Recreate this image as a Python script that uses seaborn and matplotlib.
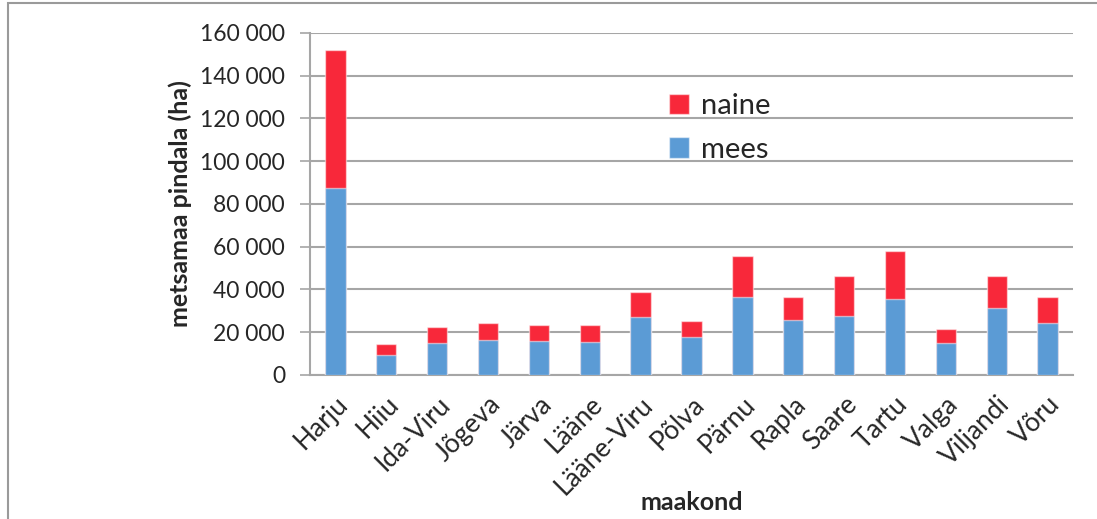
import matplotlib
matplotlib.use("Agg")
import matplotlib.pyplot as plt
from matplotlib.patches import Rectangle
import pandas as pd
import seaborn as sns

# metsamaa pindala (ha) maakonniti, omaniku sugu
maakond = ["Harju", "Hiiu", "Ida-Viru", "Jõgeva", "Järva", "Lääne", "Lääne-Viru",
           "Põlva", "Pärnu", "Rapla", "Saare", "Tartu", "Valga", "Viljandi", "Võru"]
mees = [87500, 9400, 15100, 16400, 16000, 15500, 27100,
        17800, 36400, 25600, 27600, 35600, 14800, 31400, 24300]
naine = [64500, 5100, 7400, 7900, 7400, 7900, 11800,
         7600, 19100, 10800, 18500, 22600, 6600, 14800, 12100]

RED = "#F8283A"
BLUE = "#5B9BD5"
GRID = "#A6A6A6"

df = pd.DataFrame({"maakond": maakond, "mees": mees, "naine": naine})
df["kokku"] = df["mees"] + df["naine"]

sns.set_style("white")
plt.rcParams["font.family"] = ["Lato", "DejaVu Sans"]

fig = plt.figure(figsize=(10.97, 5.19), dpi=100)
ax = fig.add_axes([0.2826, 0.2775, 0.6955, 0.659])

# stacked: total (red) drawn first, male share (blue) on top of it
sns.barplot(data=df, x="maakond", y="kokku", color=RED, width=0.4, saturation=1,
            edgecolor=(1, 1, 1, 0.5), linewidth=1, label="naine", ax=ax, zorder=3)
sns.barplot(data=df, x="maakond", y="mees", color=BLUE, width=0.4, saturation=1,
            edgecolor=(1, 1, 1, 0.5), linewidth=1, label="mees", ax=ax, zorder=3)

ax.set_ylim(0, 160000)
ax.set_xlim(-0.5, len(maakond) - 0.5)
ax.set_yticks(range(0, 160001, 20000))
ax.set_yticklabels([f"{v:,}".replace(",", " ") for v in range(0, 160001, 20000)])
ax.yaxis.grid(True, color=GRID, linewidth=1.5, zorder=0)
ax.set_axisbelow(True)

ax.set_xticks(range(len(maakond)))
ax.set_xticklabels(maakond, rotation=45, ha="right", rotation_mode="anchor")
ax.set_xticks([i - 0.5 for i in range(len(maakond) + 1)], minor=True)
ax.tick_params(axis="x", which="major", length=0, labelsize=19, pad=12)
ax.tick_params(axis="x", which="minor", length=6, color=GRID, width=1.2, direction="out")
ax.tick_params(axis="y", length=7, color=GRID, width=1.2, labelsize=16.5, pad=11, left=True)

for side in ["top", "right"]:
    ax.spines[side].set_visible(False)
for side in ["left", "bottom"]:
    ax.spines[side].set_color(GRID)
    ax.spines[side].set_linewidth(1.5)

ax.set_xlabel("maakond", fontsize=18, fontweight="bold", labelpad=-6)
ax.set_ylabel("metsamaa pindala (ha)", fontsize=18, fontweight="bold", labelpad=6)

handles, labels = ax.get_legend_handles_labels()
ax.legend(handles, labels, loc="upper left", bbox_to_anchor=(0.436, 0.9),
          frameon=False, fontsize=21, handlelength=0.7, handleheight=0.7,
          handletextpad=0.4, labelspacing=0.6)

# chart border
fig.add_artist(Rectangle((8 / 1097, -0.1), 1.1, 1 - 3 / 519 + 0.1,
                         transform=fig.transFigure, fill=False,
                         edgecolor="#9A9A9A", linewidth=1.5))

fig.savefig("out.png", dpi=100)
